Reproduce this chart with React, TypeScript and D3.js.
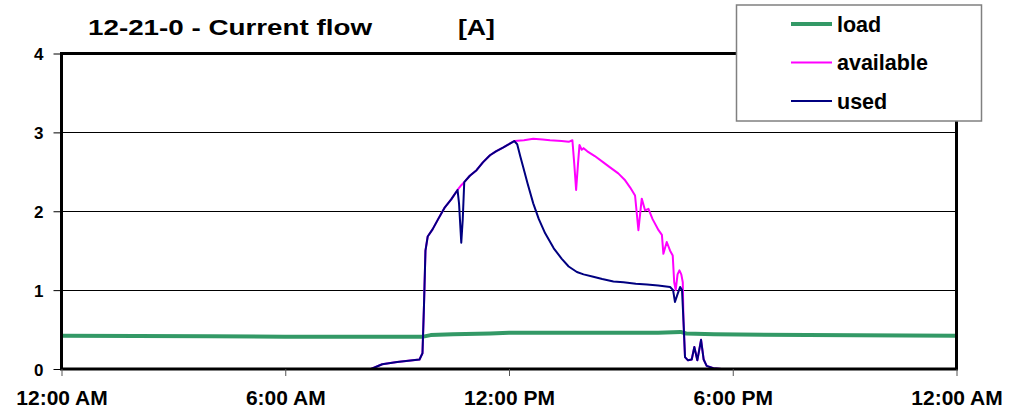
import React, { useEffect, useRef } from "react";
import * as d3 from "d3";

type Pt = [number, number];

// hours since midnight, amps
const loadPoints: Pt[] = [
  [0, 0.42], [4, 0.415], [6, 0.41], [9.7, 0.41], [9.9, 0.43], [10.5, 0.44],
  [11.5, 0.45], [12, 0.46], [14, 0.46], [16, 0.46], [16.6, 0.47], [16.75, 0.45],
  [17.5, 0.44], [20, 0.43], [24, 0.42],
];

const availablePoints: Pt[] = [
  [0, 0], [8.3, 0], [8.6, 0.06], [9.0, 0.09], [9.6, 0.12], [9.68, 0.2], [9.72, 0.8],
  [9.76, 1.5], [9.82, 1.68], [9.95, 1.77], [10.1, 1.9], [10.28, 2.05], [10.45, 2.15],
  [10.62, 2.27], [10.72, 2.33], [10.8, 2.37], [10.95, 2.45], [11.13, 2.52], [11.3, 2.62],
  [11.49, 2.71], [11.65, 2.76], [11.85, 2.81], [12.0, 2.85], [12.14, 2.89], [12.4, 2.9],
  [12.65, 2.92], [12.9, 2.91], [13.1, 2.9], [13.41, 2.89], [13.6, 2.88], [13.7, 2.9],
  [13.75, 2.6], [13.8, 2.27], [13.85, 2.6], [13.89, 2.84], [13.95, 2.78], [14.0, 2.8],
  [14.1, 2.76], [14.3, 2.7], [14.53, 2.62], [14.7, 2.56], [14.93, 2.48], [15.1, 2.4],
  [15.25, 2.3], [15.38, 2.2], [15.47, 1.76], [15.56, 2.16], [15.65, 2.01], [15.74, 2.03],
  [15.85, 1.9], [16.01, 1.76], [16.1, 1.7], [16.14, 1.46], [16.23, 1.61], [16.32, 1.5],
  [16.39, 1.44], [16.43, 1.1], [16.47, 1.0], [16.52, 1.2], [16.57, 1.25], [16.62, 1.2],
  [16.66, 1.1], [16.68, 0.6], [16.72, 0.15], [16.8, 0.11], [16.9, 0.12], [16.97, 0.28],
  [17.05, 0.11], [17.15, 0.37], [17.22, 0.12], [17.3, 0.04], [17.48, 0.01], [17.7, 0],
  [24, 0],
];

const usedPoints: Pt[] = [
  [0, 0], [8.3, 0], [8.6, 0.06], [9.0, 0.09], [9.6, 0.12], [9.68, 0.2], [9.72, 0.8],
  [9.76, 1.5], [9.82, 1.68], [9.95, 1.77], [10.1, 1.9], [10.28, 2.05], [10.45, 2.15],
  [10.62, 2.27], [10.66, 2.1], [10.72, 1.6], [10.76, 1.9], [10.8, 2.37], [10.95, 2.45],
  [11.13, 2.52], [11.3, 2.62], [11.49, 2.71], [11.65, 2.76], [11.85, 2.81], [12.0, 2.85],
  [12.14, 2.89], [12.22, 2.85], [12.3, 2.7], [12.38, 2.56], [12.5, 2.35], [12.65, 2.1],
  [12.8, 1.9], [12.97, 1.72], [13.2, 1.53], [13.41, 1.4], [13.6, 1.3], [13.82, 1.23],
  [14.0, 1.2], [14.26, 1.17], [14.5, 1.14], [14.8, 1.11], [15.07, 1.1], [15.4, 1.08],
  [15.7, 1.07], [16.0, 1.06], [16.32, 1.04], [16.4, 1.0], [16.45, 0.85], [16.52, 0.95],
  [16.59, 1.04], [16.64, 1.0], [16.68, 0.6], [16.72, 0.15], [16.8, 0.11], [16.9, 0.12],
  [16.97, 0.28], [17.05, 0.11], [17.15, 0.37], [17.22, 0.12], [17.3, 0.04], [17.48, 0.01],
  [17.7, 0], [24, 0],
];

const xTickHours = [0, 6, 12, 18, 24];
const xTickLabels = ["12:00 AM", "6:00 AM", "12:00 PM", "6:00 PM", "12:00 AM"];
const yTicks = [0, 1, 2, 3, 4];

const series = [
  { name: "load", color: "#339966", width: 4, points: loadPoints },
  { name: "available", color: "#ff00ff", width: 2, points: availablePoints },
  { name: "used", color: "#000080", width: 2, points: usedPoints },
];

const FONT = "Arial, 'Liberation Sans', sans-serif";

export default function App() {
  const ref = useRef<SVGSVGElement>(null);

  useEffect(() => {
    if (!ref.current) return;
    const svg = d3.select(ref.current);
    svg.selectAll("*").remove();

    const left = 61.5, right = 956.5, top = 53.5, bottom = 369;
    const x = d3.scaleLinear().domain([0, 24]).range([left, right]);
    const y = d3.scaleLinear().domain([0, 4]).range([bottom, top]);

    svg.append("rect").attr("width", 1024).attr("height", 418).attr("fill", "#fff");

    // gridlines
    svg
      .append("g")
      .selectAll("line")
      .data(yTicks.filter((d) => d > 0 && d < 4))
      .join("line")
      .attr("x1", left)
      .attr("x2", right)
      .attr("y1", (d) => Math.round(y(d)) + 0.5)
      .attr("y2", (d) => Math.round(y(d)) + 0.5)
      .attr("stroke", "#000")
      .attr("stroke-width", 1);

    // series, load first, used on top
    const line = d3
      .line<Pt>()
      .x((d) => x(d[0]))
      .y((d) => y(d[1]));

    series.forEach((s) => {
      svg
        .append("path")
        .datum(s.points)
        .attr("fill", "none")
        .attr("stroke", s.color)
        .attr("stroke-width", s.width)
        .attr("stroke-linejoin", "round")
        .attr("d", line);
    });

    // frame
    svg
      .append("rect")
      .attr("x", left)
      .attr("y", top)
      .attr("width", right - left)
      .attr("height", bottom - top)
      .attr("fill", "none")
      .attr("stroke", "#000")
      .attr("stroke-width", 3);

    // y axis
    const yAxis = svg
      .append("g")
      .attr("transform", `translate(${left},0)`)
      .call(d3.axisLeft(y).tickValues(yTicks).tickSize(8).tickPadding(10).tickFormat(d3.format("d")));
    yAxis.select(".domain").remove();
    yAxis.selectAll("line").attr("stroke", "#000");
    yAxis
      .selectAll("text")
      .attr("font-family", FONT)
      .attr("font-size", 17)
      .attr("font-weight", "bold")
      .attr("fill", "#000")
      .attr("dy", "0.36em");

    // x axis
    const xAxis = svg
      .append("g")
      .attr("transform", `translate(0,${bottom})`)
      .call(
        d3
          .axisBottom(x)
          .tickValues(xTickHours)
          .tickSize(7)
          .tickPadding(14)
          .tickFormat((_, i) => xTickLabels[i])
      );
    xAxis.select(".domain").remove();
    xAxis.selectAll("line").attr("stroke", "#555");
    xAxis
      .selectAll("text")
      .attr("font-family", FONT)
      .attr("font-size", 21)
      .attr("font-weight", "bold")
      .attr("fill", "#000");

    // title
    svg
      .append("text")
      .attr("x", 88)
      .attr("y", 34.5)
      .attr("font-family", FONT)
      .attr("font-size", 22)
      .attr("font-weight", "bold")
      .attr("textLength", 284)
      .attr("lengthAdjust", "spacingAndGlyphs")
      .text("12-21-0 - Current flow");
    svg
      .append("text")
      .attr("x", 458)
      .attr("y", 34.5)
      .attr("font-family", FONT)
      .attr("font-size", 22)
      .attr("font-weight", "bold")
      .attr("textLength", 37)
      .attr("lengthAdjust", "spacingAndGlyphs")
      .text("[A]");

    // legend
    const lg = svg.append("g");
    lg.append("rect")
      .attr("x", 736.5)
      .attr("y", 5)
      .attr("width", 245)
      .attr("height", 116)
      .attr("fill", "#fff")
      .attr("stroke", "#808080")
      .attr("stroke-width", 1.5);
    const rowY = d3.scalePoint<string>().domain(series.map((s) => s.name)).range([24, 101]);
    series.forEach((s) => {
      const yy = rowY(s.name) as number;
      lg.append("line")
        .attr("x1", 791)
        .attr("x2", 832)
        .attr("y1", yy)
        .attr("y2", yy)
        .attr("stroke", s.color)
        .attr("stroke-width", s.width);
      lg.append("text")
        .attr("x", 837)
        .attr("y", yy + 7.5)
        .attr("font-family", FONT)
        .attr("font-size", 21.5)
        .attr("font-weight", "bold")
        .attr("fill", "#000")
        .text(s.name);
    });
  }, []);

  return (
    <svg
      ref={ref}
      width={1024}
      height={418}
      style={{ position: "absolute", left: 0, top: 0 }}
    />
  );
}
